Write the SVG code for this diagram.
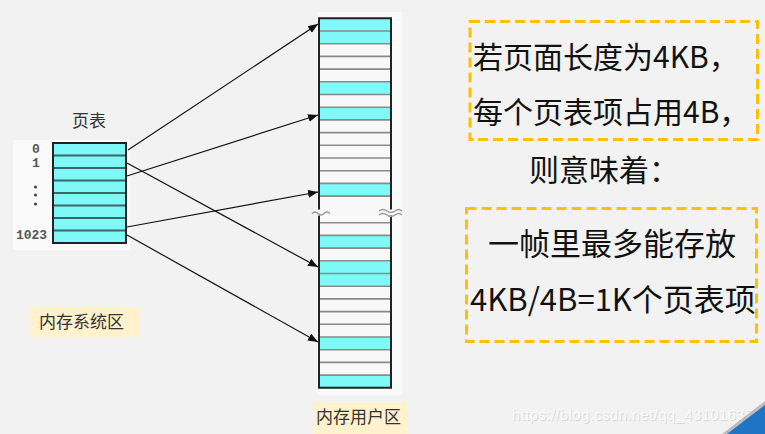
<svg xmlns="http://www.w3.org/2000/svg" width="765" height="434" viewBox="0 0 765 434">
<style>
.cy{fill:#7ff8f8}
.wh{fill:#f8f8f8}
.sep{stroke:#8a8a8a;stroke-width:1.6}
.psep{stroke:#3d6666;stroke-width:2}
.bd{stroke:#222;stroke-width:2;fill:none}
.arr{stroke:#111;stroke-width:1.2;fill:none;marker-end:url(#ah)}
.cjk{font-family:"Noto Sans CJK SC","Noto Sans",sans-serif;fill:#111}
.lbl{font-family:"Noto Sans CJK SC","Noto Sans",sans-serif;font-size:17px;fill:#333}
.idx{font-family:"Liberation Mono","DejaVu Sans Mono",monospace;font-size:13px;fill:#555;font-weight:bold}
.dash{fill:none;stroke:#ffc000;stroke-width:3;stroke-dasharray:10 5}
.tl{fill:none;stroke:#999;stroke-width:1.5}
</style>
<defs>
<marker id="ah" viewBox="0 0 10 8" refX="10" refY="4" markerWidth="10" markerHeight="8" markerUnits="userSpaceOnUse" orient="auto">
<path d="M0,0 L10,4 L0,8 Z" fill="#111"/>
</marker>
</defs>
<rect width="765" height="434" fill="#f2f2f2"/>

<g id="page-table">
<rect x="13" y="140" width="117" height="110" fill="#fafafa"/>
<text class="lbl" x="72" y="127">页表</text>
<rect x="53" y="143" width="73" height="100" class="cy"/>
<line class="psep" x1="53" y1="155.5" x2="126" y2="155.5"/>
<line class="psep" x1="53" y1="168" x2="126" y2="168"/>
<line class="psep" x1="53" y1="180.5" x2="126" y2="180.5"/>
<line class="psep" x1="53" y1="193" x2="126" y2="193"/>
<line class="psep" x1="53" y1="205.5" x2="126" y2="205.5"/>
<line class="psep" x1="53" y1="218" x2="126" y2="218"/>
<line class="psep" x1="53" y1="230.5" x2="126" y2="230.5"/>
<rect x="53" y="143" width="73" height="100" class="bd"/>
<text class="idx" x="36" y="153" text-anchor="middle">0</text>
<text class="idx" x="36" y="166.5" text-anchor="middle">1</text>
<circle cx="35.5" cy="187" r="1.6" fill="#444"/>
<circle cx="35.5" cy="195" r="1.6" fill="#444"/>
<circle cx="35.5" cy="204" r="1.6" fill="#444"/>
<text class="idx" x="31.5" y="238.5" text-anchor="middle">1023</text>
</g>

<g id="system-area">
<rect x="29" y="307" width="111" height="30" fill="#fff2cc"/>
<text class="lbl" x="39" y="328">内存系统区</text>
</g>

<g id="user-memory">
<rect x="317" y="12" width="85" height="383" fill="#fafafa"/>
<!-- upper rows -->
<rect x="319" y="18.3" width="72" height="190.5" class="wh"/>
<rect x="319" y="18.3" width="72" height="25.4" class="cy"/>
<rect x="319" y="81.8" width="72" height="12.7" class="cy"/>
<rect x="319" y="107.2" width="72" height="12.7" class="cy"/>
<rect x="319" y="183.4" width="72" height="12.7" class="cy"/>
<g class="sep">
<line x1="319" y1="31" x2="391" y2="31"/>
<line x1="319" y1="43.7" x2="391" y2="43.7"/>
<line x1="319" y1="56.4" x2="391" y2="56.4"/>
<line x1="319" y1="69.1" x2="391" y2="69.1"/>
<line x1="319" y1="81.8" x2="391" y2="81.8"/>
<line x1="319" y1="94.5" x2="391" y2="94.5"/>
<line x1="319" y1="107.2" x2="391" y2="107.2"/>
<line x1="319" y1="119.9" x2="391" y2="119.9"/>
<line x1="319" y1="132.6" x2="391" y2="132.6"/>
<line x1="319" y1="145.3" x2="391" y2="145.3"/>
<line x1="319" y1="158" x2="391" y2="158"/>
<line x1="319" y1="170.7" x2="391" y2="170.7"/>
<line x1="319" y1="183.4" x2="391" y2="183.4"/>
<line x1="319" y1="196.1" x2="391" y2="196.1"/>
</g>
<!-- lower rows -->
<rect x="319" y="208" width="72" height="179.8" class="wh"/>
<rect x="319" y="235.4" width="72" height="12.7" class="cy"/>
<rect x="319" y="260.8" width="72" height="25.4" class="cy"/>
<rect x="319" y="337" width="72" height="12.7" class="cy"/>
<rect x="319" y="375.1" width="72" height="12.7" class="cy"/>
<g class="sep">
<line x1="319" y1="222.7" x2="391" y2="222.7"/>
<line x1="319" y1="235.4" x2="391" y2="235.4"/>
<line x1="319" y1="248.1" x2="391" y2="248.1"/>
<line x1="319" y1="260.8" x2="391" y2="260.8"/>
<line x1="319" y1="273.5" x2="391" y2="273.5"/>
<line x1="319" y1="286.2" x2="391" y2="286.2"/>
<line x1="319" y1="298.9" x2="391" y2="298.9"/>
<line x1="319" y1="311.6" x2="391" y2="311.6"/>
<line x1="319" y1="324.3" x2="391" y2="324.3"/>
<line x1="319" y1="337" x2="391" y2="337"/>
<line x1="319" y1="349.7" x2="391" y2="349.7"/>
<line x1="319" y1="362.4" x2="391" y2="362.4"/>
<line x1="319" y1="375.1" x2="391" y2="375.1"/>
</g>
<g class="bd">
<line x1="318" y1="18.3" x2="392" y2="18.3"/>
<line x1="319" y1="18" x2="319" y2="209.5"/>
<line x1="391" y1="18" x2="391" y2="209.5"/>
<line x1="319" y1="215.5" x2="319" y2="388"/>
<line x1="391" y1="215.5" x2="391" y2="388"/>
<line x1="318" y1="387.8" x2="392" y2="387.8"/>
</g>
<path class="tl" d="M312,213.5 q3,-3 6,0 t6,0 t6,0"/>
<path class="tl" d="M379,211 q4,-3 8,0 t8,0 t7,0"/>
<path class="tl" d="M379,215 q4,-3 8,0 t8,0 t7,0"/>
</g>

<g id="user-area-label">
<rect x="313" y="402" width="94" height="32" fill="#fff2cc"/>
<text class="lbl" x="316" y="422.5">内存用户区</text>
</g>

<g id="connectors">
<line class="arr" x1="128" y1="150" x2="318" y2="24"/>
<line class="arr" x1="127" y1="176" x2="318" y2="115"/>
<line class="arr" x1="127" y1="227" x2="318" y2="192"/>
<line class="arr" x1="127" y1="163" x2="318" y2="267"/>
<line class="arr" x1="127" y1="235" x2="318" y2="342"/>
</g>

<g id="note1">
<rect class="dash" x="470" y="21.5" width="287.5" height="118"/>
<text class="cjk" x="473" y="68" font-size="30">若页面长度为4KB，</text>
<text class="cjk" x="473" y="123" font-size="30">每个页表项占用4B，</text>
</g>

<g id="note-mid">
<text class="cjk" x="529" y="180.5" font-size="30">则意味着：</text>
</g>

<g id="note2">
<rect class="dash" x="466.5" y="208.5" width="290" height="133"/>
<text class="cjk" x="612" y="254.5" font-size="31" text-anchor="middle">一帧里最多能存放</text>
<text class="cjk" x="613" y="311" font-size="31" text-anchor="middle">4KB/4B=1K个页表项</text>
</g>

<g id="watermark">
<text x="513" y="421" font-family="Liberation Sans, Arial, sans-serif" font-size="14.5" textLength="241" fill="#d8d8d8">https://blog.csdn.net/qq_43101637</text>
<text x="512" y="420" font-family="Liberation Sans, Arial, sans-serif" font-size="14.5" textLength="241" fill="#fbfbfb">https://blog.csdn.net/qq_43101637</text>
<polygon points="765,401 765,434 722,434" fill="#9a9a9a" opacity="0.6"/>
<polygon points="765,405 765,434 727,434" fill="#1f74c6"/>
</g>
</svg>
